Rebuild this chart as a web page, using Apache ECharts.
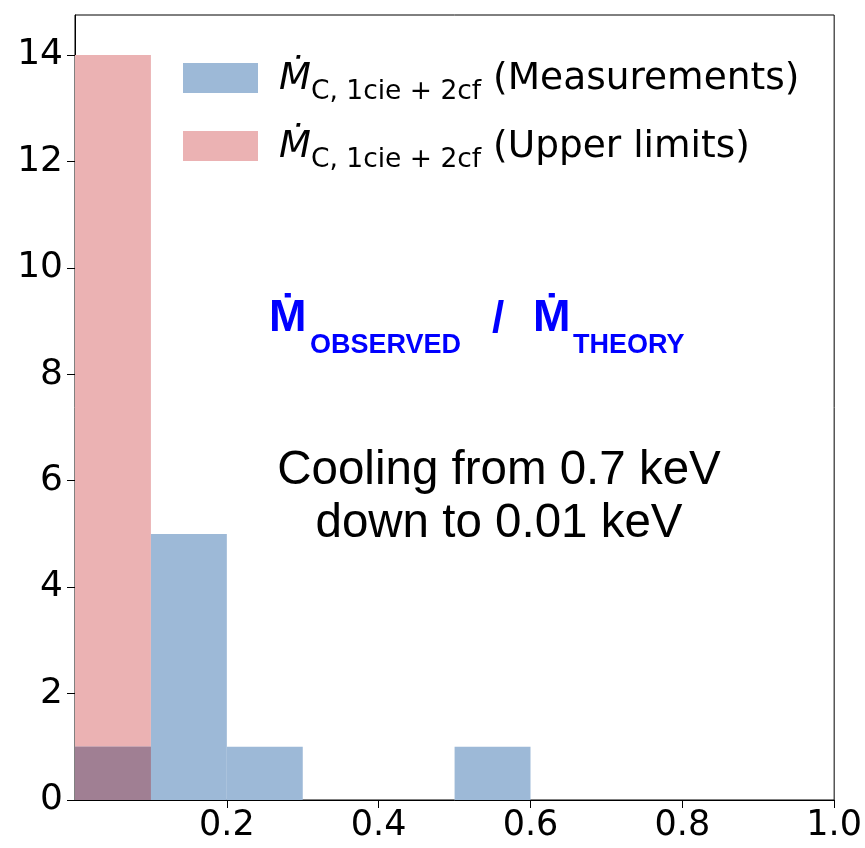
<!DOCTYPE html>
<html><head><meta charset="utf-8">
<script src="https://cdn.jsdelivr.net/npm/echarts@6/dist/echarts.min.js"></script>
<style>html,body{margin:0;padding:0;background:#fff}#c{width:865px;height:848px}</style>
</head><body><div id="c"></div>
<script>
const binEdges = [0, 0.1, 0.2, 0.3, 0.4, 0.5, 0.6, 0.7, 0.8, 0.9, 1.0];
const measuredCounts = [1, 5, 1, 0, 0, 1, 0, 0, 0, 0];
const upperLimitCounts = [14, 0, 0, 0, 0, 0, 0, 0, 0, 0];
const xTicks = [0, 0.2, 0.4, 0.6, 0.8, 1.0];
const yTicks = [0, 2, 4, 6, 8, 10, 12, 14];
const legendNames = ['Measurements', 'Upper limits'];

const blue = '#9db9d7', red = '#ebb2b3', both = '#a07f93';

function toBins(counts) {
  const out = [];
  counts.forEach((c, i) => { if (c > 0) out.push([binEdges[i], binEdges[i + 1], c]); });
  return out;
}
const overlapCounts = measuredCounts.map((c, i) => Math.min(c, upperLimitCounts[i]));

function rectRenderer(color) {
  return function (params, api) {
    const p0 = api.coord([api.value(0), api.value(2)]);
    const p1 = api.coord([api.value(1), 0]);
    return { type: 'rect', shape: { x: p0[0], y: p0[1], width: p1[0] - p0[0], height: p1[1] - p0[1] }, style: { fill: color } };
  };
}

const chart = echarts.init(document.getElementById('c'));
chart.setOption({
  animation: false,
  grid: { left: 75, right: 30, top: 15, bottom: 48, show: true, borderColor: '#000', borderWidth: 1, backgroundColor: 'transparent' },
  xAxis: {
    type: 'value', min: 0, max: 1, interval: 0.2,
    axisLine: { lineStyle: { color: '#000', width: 1 } },
    axisTick: { show: true, length: 8, lineStyle: { color: '#000' } },
    splitLine: { show: false },
    axisLabel: { showMinLabel: false, color: '#000', fontFamily: 'DejaVu Sans', fontSize: 35, margin: 8,
      formatter: v => v.toFixed(1) }
  },
  yAxis: {
    type: 'value', min: 0, max: 14.75, interval: 2,
    axisLine: { show: true, lineStyle: { color: '#000', width: 1 } },
    axisTick: { show: true, length: 8, lineStyle: { color: '#000' }, customValues: yTicks },
    splitLine: { show: false },
    axisLabel: { color: '#000', fontFamily: 'DejaVu Sans', fontSize: 36, margin: 12, customValues: yTicks }
  },
  legend: {
    left: 178, top: 55, orient: 'vertical', itemWidth: 75, itemHeight: 30, itemGap: 22,
    selectedMode: false,
    data: [
      { name: legendNames[0], icon: 'rect', itemStyle: { color: blue } },
      { name: legendNames[1], icon: 'rect', itemStyle: { color: red } }
    ],
    formatter: n => '{m|Ṁ}{s|C, 1cie + 2cf}{t| (' + n + ')}',
    textStyle: {
      color: '#000', fontFamily: 'DejaVu Sans', padding: [0, 0, 0, 16],
      rich: {
        m: { fontFamily: 'DejaVu Sans', fontStyle: 'italic', fontSize: 37, color: '#000', verticalAlign: 'bottom', lineHeight: 40 },
        s: { fontFamily: 'DejaVu Sans', fontSize: 26.5, color: '#000', verticalAlign: 'bottom', padding: [0, 0, -8, 0], lineHeight: 40 },
        t: { fontFamily: 'DejaVu Sans', fontSize: 37.5, color: '#000', verticalAlign: 'bottom', lineHeight: 40 }
      }
    }
  },
  series: [
    { type: 'custom', name: legendNames[1], renderItem: rectRenderer(red), itemStyle: { color: red }, data: toBins(upperLimitCounts), encode: { x: [0, 1], y: 2 }, z: 1 },
    { type: 'custom', name: legendNames[0], renderItem: rectRenderer(blue), itemStyle: { color: blue }, data: toBins(measuredCounts), encode: { x: [0, 1], y: 2 }, z: 2 },
    { type: 'custom', name: 'overlap', renderItem: rectRenderer(both), itemStyle: { color: both }, data: toBins(overlapCounts), encode: { x: [0, 1], y: 2 }, z: 3 }
  ],
  graphic: [
    { type: 'text', left: 269, top: 296, style: { text: 'Ṁ', fontFamily: 'Liberation Sans', fontWeight: 'bold', fontSize: 45, fill: '#0000ff' } },
    { type: 'text', left: 310, top: 332, style: { text: 'OBSERVED', fontFamily: 'Liberation Sans', fontWeight: 'bold', fontSize: 27, fill: '#0000ff' } },
    { type: 'text', left: 492, top: 298, style: { text: '/', fontFamily: 'Liberation Sans', fontWeight: 'bold', fontSize: 44, fill: '#0000ff' } },
    { type: 'text', left: 533, top: 296, style: { text: 'Ṁ', fontFamily: 'Liberation Sans', fontWeight: 'bold', fontSize: 45, fill: '#0000ff' } },
    { type: 'text', left: 573, top: 332, style: { text: 'THEORY', fontFamily: 'Liberation Sans', fontWeight: 'bold', fontSize: 27, fill: '#0000ff' } },
    { type: 'text', x: 499, y: 497, style: { text: 'Cooling from 0.7 keV\ndown to 0.01 keV', fontFamily: 'Liberation Sans', fontSize: 47.5, lineHeight: 53, align: 'center', verticalAlign: 'middle', fill: '#000' } }
  ]
});
</script></body></html>
